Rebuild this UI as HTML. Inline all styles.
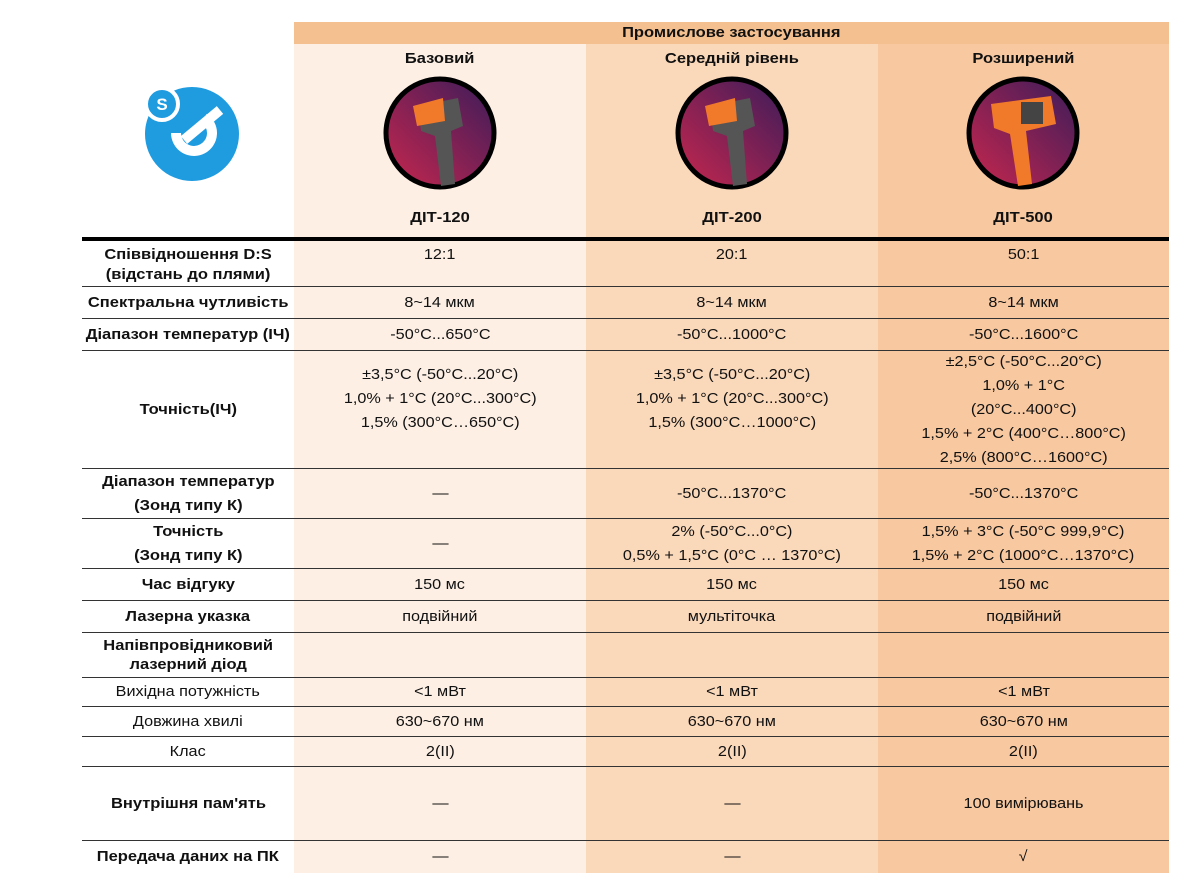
<!DOCTYPE html>
<html><head><meta charset="utf-8"><style>
body{margin:0;width:1198px;height:896px;background:#fff;position:relative;overflow:hidden;font-family:"Liberation Sans",Arial,sans-serif;font-size:15px;color:#111}
.c{position:absolute;display:flex;align-items:center;justify-content:center;text-align:center;line-height:24px}
.c>span{display:inline-block;transform:scaleX(1.08);white-space:nowrap}
.b{font-weight:bold}
.b>span{transform:scaleX(1.1)}
.bg{position:absolute}
.ln{position:absolute;left:82px;width:1087px;height:1px;background:#333}
</style></head><body>
<div class="bg" style="left:294px;top:22px;width:875px;height:22px;background:#f5c08f"></div>
<div class="bg" style="left:294px;top:44px;width:292px;height:829px;background:#fdefe4"></div>
<div class="bg" style="left:586px;top:44px;width:292px;height:829px;background:#fad8ba"></div>
<div class="bg" style="left:878px;top:44px;width:291px;height:829px;background:#f8c9a1"></div>
<div class="c b" style="left:294px;top:22px;width:875px;height:22px"><span>Промислове застосування</span></div>
<div class="c b" style="left:294px;top:46px;width:292px;height:26px"><span>Базовий</span></div>
<div class="c b" style="left:586px;top:46px;width:292px;height:26px"><span>Середній рівень</span></div>
<div class="c b" style="left:878px;top:46px;width:291px;height:26px"><span>Розширений</span></div>
<div class="c b" style="left:294px;top:205px;width:292px;height:26px"><span>ДІТ-120</span></div>
<div class="c b" style="left:586px;top:205px;width:292px;height:26px"><span>ДІТ-200</span></div>
<div class="c b" style="left:878px;top:205px;width:291px;height:26px"><span>ДІТ-500</span></div>
<svg style="position:absolute;left:383px;top:76px" width="114" height="114"><defs><linearGradient id="g" x1="0" y1="1" x2="1" y2="0"><stop offset="0" stop-color="#c8264e"/><stop offset="1" stop-color="#3a1c5a"/></linearGradient></defs><circle cx="57" cy="57" r="54" fill="url(#g)" stroke="#000" stroke-width="5"/><path d="M35 30 L75 22 L80 50 L68 55 L72 108 L58 110 L52 60 L38 55Z" fill="#555"/><path d="M30 30 L60 22 L62 45 L34 50Z" fill="#f07a2a"/></svg>
<svg style="position:absolute;left:675px;top:76px" width="114" height="114"><circle cx="57" cy="57" r="54" fill="url(#g)" stroke="#000" stroke-width="5"/><path d="M35 30 L75 22 L80 50 L68 55 L72 108 L58 110 L52 60 L38 55Z" fill="#555"/><path d="M30 30 L60 22 L62 45 L34 50Z" fill="#f07a2a"/></svg>
<svg style="position:absolute;left:966px;top:76px" width="114" height="114"><circle cx="57" cy="57" r="54" fill="url(#g)" stroke="#000" stroke-width="5"/><path d="M25 28 L85 20 L90 48 L60 55 L66 108 L52 110 L44 58 L28 52Z" fill="#f07a2a"/><rect x="55" y="26" width="22" height="22" fill="#444"/></svg>
<svg style="position:absolute;left:136px;top:78px" width="106" height="106"><circle cx="56" cy="56" r="47" fill="#1f9be0"/><path d="M40 55 a18 18 0 1 0 28 -15" fill="none" stroke="#fff" stroke-width="10"/><line x1="48" y1="62" x2="84" y2="32" stroke="#fff" stroke-width="10"/><circle cx="26" cy="26" r="16" fill="#1f9be0" stroke="#fff" stroke-width="4"/><text x="26" y="32" font-size="17" font-weight="bold" fill="#fff" text-anchor="middle" font-family="Liberation Sans">S</text></svg>
<div class="bg" style="left:82px;top:237px;width:1087px;height:4px;background:#000"></div>
<div class="ln" style="top:286px"></div><div class="ln" style="top:318px"></div><div class="ln" style="top:350px"></div>
<div class="ln" style="top:468px"></div><div class="ln" style="top:518px"></div><div class="ln" style="top:568px"></div>
<div class="ln" style="top:600px"></div><div class="ln" style="top:632px"></div><div class="ln" style="top:677px"></div>
<div class="ln" style="top:706px"></div><div class="ln" style="top:736px"></div><div class="ln" style="top:766px"></div>
<div class="ln" style="top:840px"></div>
<div class="c b" style="left:82px;top:243px;width:212px;height:43px;line-height:20px"><span>Співвідношення D:S<br>(відстань до плями)</span></div>
<div class="c b" style="left:82px;top:287px;width:212px;height:31px"><span>Спектральна чутливість</span></div>
<div class="c b" style="left:82px;top:319px;width:212px;height:31px"><span>Діапазон температур (ІЧ)</span></div>
<div class="c b" style="left:82px;top:351px;width:212px;height:117px"><span>Точність(ІЧ)</span></div>
<div class="c b" style="left:82px;top:469px;width:212px;height:49px"><span>Діапазон температур<br>(Зонд типу К)</span></div>
<div class="c b" style="left:82px;top:519px;width:212px;height:49px"><span>Точність<br>(Зонд типу К)</span></div>
<div class="c b" style="left:82px;top:569px;width:212px;height:31px"><span>Час відгуку</span></div>
<div class="c b" style="left:82px;top:601px;width:212px;height:31px"><span>Лазерна указка</span></div>
<div class="c b" style="left:82px;top:633px;width:212px;height:44px;line-height:19px"><span>Напівпровідниковий<br>лазерний діод</span></div>
<div class="c" style="left:82px;top:678px;width:212px;height:28px"><span>Вихідна потужність</span></div>
<div class="c" style="left:82px;top:707px;width:212px;height:29px"><span>Довжина хвилі</span></div>
<div class="c" style="left:82px;top:737px;width:212px;height:29px"><span>Клас</span></div>
<div class="c b" style="left:82px;top:767px;width:212px;height:73px"><span>Внутрішня пам'ять</span></div>
<div class="c b" style="left:82px;top:841px;width:212px;height:32px"><span>Передача даних на ПК</span></div>
<div class="c" style="left:294px;top:243px;width:292px;height:24px"><span>12:1</span></div>
<div class="c" style="left:294px;top:287px;width:292px;height:31px"><span>8~14 мкм</span></div>
<div class="c" style="left:294px;top:319px;width:292px;height:31px"><span>-50°C...650°C</span></div>
<div class="c" style="left:294px;top:351px;width:292px;height:117px;padding-bottom:22px;box-sizing:border-box"><span>±3,5°C (-50°C...20°C)<br>1,0% + 1°C (20°C...300°C)<br>1,5% (300°C…650°C)</span></div>
<div class="c" style="left:294px;top:469px;width:292px;height:49px"><span>—</span></div>
<div class="c" style="left:294px;top:519px;width:292px;height:49px"><span>—</span></div>
<div class="c" style="left:294px;top:569px;width:292px;height:31px"><span>150 мс</span></div>
<div class="c" style="left:294px;top:601px;width:292px;height:31px"><span>подвійний</span></div>
<div class="c" style="left:294px;top:678px;width:292px;height:28px"><span>&lt;1 мВт</span></div>
<div class="c" style="left:294px;top:707px;width:292px;height:29px"><span>630~670 нм</span></div>
<div class="c" style="left:294px;top:737px;width:292px;height:29px"><span>2(ІІ)</span></div>
<div class="c" style="left:294px;top:767px;width:292px;height:73px"><span>—</span></div>
<div class="c" style="left:294px;top:841px;width:292px;height:32px"><span>—</span></div>
<div class="c" style="left:586px;top:243px;width:292px;height:24px"><span>20:1</span></div>
<div class="c" style="left:586px;top:287px;width:292px;height:31px"><span>8~14 мкм</span></div>
<div class="c" style="left:586px;top:319px;width:292px;height:31px"><span>-50°C...1000°C</span></div>
<div class="c" style="left:586px;top:351px;width:292px;height:117px;padding-bottom:22px;box-sizing:border-box"><span>±3,5°C (-50°C...20°C)<br>1,0% + 1°C (20°C...300°C)<br>1,5% (300°C…1000°C)</span></div>
<div class="c" style="left:586px;top:469px;width:292px;height:49px"><span>-50°C...1370°C</span></div>
<div class="c" style="left:586px;top:519px;width:292px;height:49px"><span>2% (-50°C...0°C)<br>0,5% + 1,5°C (0°C … 1370°C)</span></div>
<div class="c" style="left:586px;top:569px;width:292px;height:31px"><span>150 мс</span></div>
<div class="c" style="left:586px;top:601px;width:292px;height:31px"><span>мультіточка</span></div>
<div class="c" style="left:586px;top:678px;width:292px;height:28px"><span>&lt;1 мВт</span></div>
<div class="c" style="left:586px;top:707px;width:292px;height:29px"><span>630~670 нм</span></div>
<div class="c" style="left:586px;top:737px;width:292px;height:29px"><span>2(ІІ)</span></div>
<div class="c" style="left:586px;top:767px;width:292px;height:73px"><span>—</span></div>
<div class="c" style="left:586px;top:841px;width:292px;height:32px"><span>—</span></div>
<div class="c" style="left:878px;top:243px;width:291px;height:24px"><span>50:1</span></div>
<div class="c" style="left:878px;top:287px;width:291px;height:31px"><span>8~14 мкм</span></div>
<div class="c" style="left:878px;top:319px;width:291px;height:31px"><span>-50°C...1600°C</span></div>
<div class="c" style="left:878px;top:351px;width:291px;height:117px"><span>±2,5°C (-50°C...20°C)<br>1,0% + 1°C<br>(20°C...400°C)<br>1,5% + 2°C (400°C…800°C)<br>2,5% (800°C…1600°C)</span></div>
<div class="c" style="left:878px;top:469px;width:291px;height:49px"><span>-50°C...1370°C</span></div>
<div class="c" style="left:878px;top:519px;width:291px;height:49px"><span>1,5% + 3°C (-50°C 999,9°C)<br>1,5% + 2°C (1000°C…1370°C)</span></div>
<div class="c" style="left:878px;top:569px;width:291px;height:31px"><span>150 мс</span></div>
<div class="c" style="left:878px;top:601px;width:291px;height:31px"><span>подвійний</span></div>
<div class="c" style="left:878px;top:678px;width:291px;height:28px"><span>&lt;1 мВт</span></div>
<div class="c" style="left:878px;top:707px;width:291px;height:29px"><span>630~670 нм</span></div>
<div class="c" style="left:878px;top:737px;width:291px;height:29px"><span>2(ІІ)</span></div>
<div class="c" style="left:878px;top:767px;width:291px;height:73px"><span>100 вимірювань</span></div>
<div class="c" style="left:878px;top:841px;width:291px;height:32px"><span>√</span></div>
</body></html>
